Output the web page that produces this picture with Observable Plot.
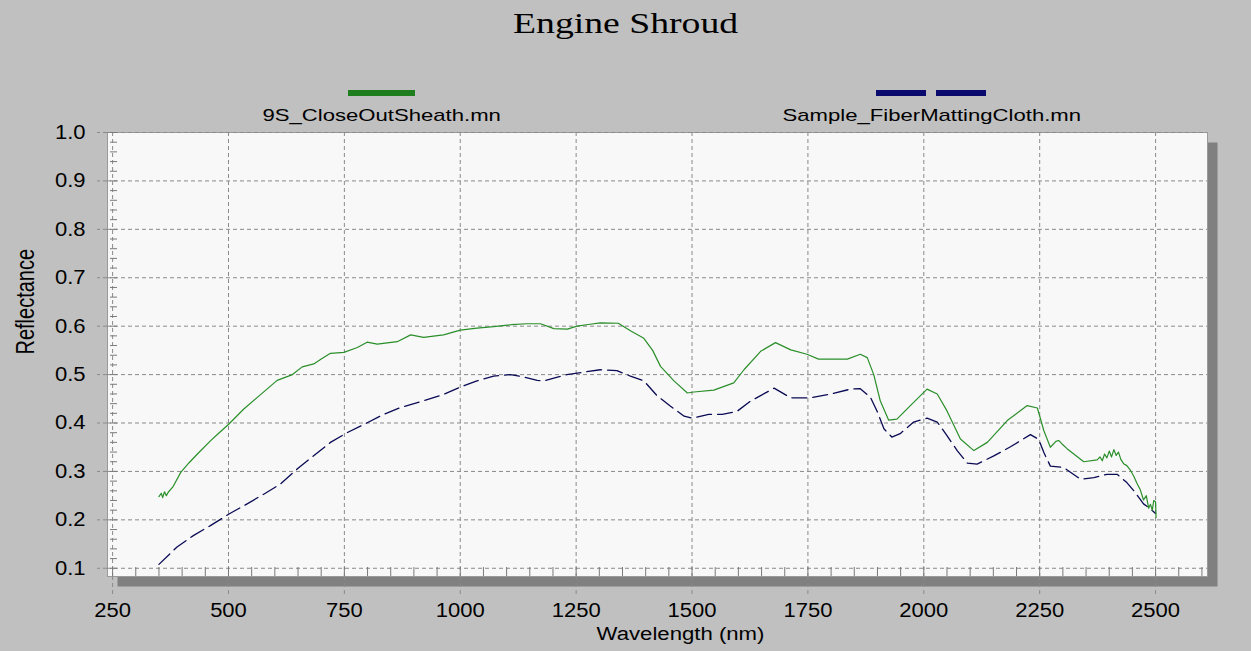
<!DOCTYPE html>
<html><head><meta charset="utf-8">
<script src="https://cdn.jsdelivr.net/npm/d3@7"></script>
<script src="https://cdn.jsdelivr.net/npm/@observablehq/plot@0.6"></script>
<style>
html,body{margin:0;padding:0;background:#c0c0c0;}
#wrap{position:relative;width:1251px;height:651px;overflow:hidden;background:#c0c0c0;}
#header{position:relative;width:1251px;height:108px;}
#title{position:absolute;left:0;top:6px;width:1251px;text-align:center;font-family:"Liberation Serif",serif;font-size:29px;line-height:34px;color:#000;}
.st{display:inline-block;transform:scaleX(1.3);transform-origin:center;}
.leg{position:absolute;top:0;width:550px;height:108px;}
.sw{position:absolute;top:90px;height:6px;}
.lt{position:absolute;left:0;top:106px;width:550px;text-align:center;font-family:"Liberation Sans",Arial,sans-serif;font-size:17px;line-height:20px;color:#000;}
</style></head>
<body>
<div id="wrap">
  <div id="header">
    <div id="title"><span class="st">Engine Shroud</span></div>
    <div class="leg" style="left:107px">
      <div class="sw" style="left:241px;width:67px;background:#1e7e1e"></div>
      <div class="lt"><span class="st" id="l1"></span></div>
    </div>
    <div class="leg" style="left:657px">
      <div class="sw" style="left:219px;width:50px;background:#0a0a6e"></div>
      <div class="sw" style="left:279px;width:50px;background:#0a0a6e"></div>
      <div class="lt"><span class="st" id="l2"></span></div>
    </div>
  </div>
  <div id="chart"></div>
</div>
<script>
const seriesNames = ["9S_CloseOutSheath.mn", "Sample_FiberMattingCloth.mn"];

const greenNm = [350,355,358,362,366,370,380,397,415,433,461,480,501,533,566,605,638,659,684,700,720,749,778,799,821,864,893,921,964,1000,1036,1072,1110,1144,1173,1202,1231,1252,1280,1302,1341,1368,1396,1415,1432,1461,1490,1504,1547,1590,1612,1648,1680,1713,1748,1773,1820,1835,1863,1878,1892,1906,1924,1942,1971,2007,2029,2050,2079,2108,2137,2180,2223,2245,2259,2273,2285,2291,2300,2309,2345,2374,2380,2385,2390,2395,2400,2405,2410,2415,2420,2425,2431,2438,2446,2453,2460,2467,2474,2480,2485,2489,2493,2496,2500,2501];
const greenR = [0.248,0.255,0.246,0.258,0.250,0.257,0.268,0.298,0.318,0.336,0.363,0.380,0.398,0.429,0.456,0.488,0.500,0.516,0.522,0.532,0.544,0.546,0.556,0.567,0.563,0.568,0.582,0.577,0.582,0.592,0.596,0.599,0.603,0.605,0.605,0.595,0.594,0.600,0.604,0.607,0.606,0.590,0.575,0.550,0.517,0.487,0.462,0.464,0.468,0.483,0.510,0.548,0.566,0.551,0.542,0.532,0.532,0.532,0.542,0.535,0.500,0.446,0.406,0.408,0.436,0.470,0.460,0.425,0.367,0.343,0.360,0.405,0.436,0.431,0.384,0.350,0.362,0.364,0.355,0.347,0.320,0.324,0.330,0.322,0.336,0.328,0.342,0.330,0.345,0.333,0.340,0.325,0.316,0.312,0.302,0.290,0.275,0.262,0.241,0.250,0.224,0.232,0.220,0.240,0.237,0.205];

const blueNm = [350,389,425,461,501,533,576,612,648,677,720,756,792,835,871,921,964,1000,1036,1072,1108,1137,1166,1180,1230,1302,1338,1367,1396,1425,1453,1483,1500,1536,1565,1597,1626,1677,1713,1756,1799,1842,1863,1885,1899,1914,1931,1949,1978,2007,2029,2050,2072,2094,2115,2151,2187,2230,2248,2259,2273,2302,2338,2367,2395,2417,2438,2453,2474,2490,2500];
const blueR = [0.108,0.144,0.168,0.188,0.212,0.229,0.253,0.274,0.305,0.327,0.360,0.380,0.397,0.418,0.432,0.446,0.459,0.474,0.487,0.497,0.500,0.495,0.488,0.487,0.500,0.510,0.508,0.497,0.487,0.456,0.435,0.414,0.410,0.418,0.418,0.424,0.445,0.472,0.452,0.452,0.460,0.470,0.471,0.453,0.425,0.388,0.371,0.378,0.402,0.410,0.402,0.374,0.343,0.317,0.315,0.332,0.351,0.376,0.366,0.339,0.311,0.308,0.284,0.287,0.294,0.294,0.277,0.260,0.233,0.222,0.213];

const xTicks = [250,500,750,1000,1250,1500,1750,2000,2250,2500];
const yTicks = [0.1,0.2,0.3,0.4,0.5,0.6,0.7,0.8,0.9,1.0];
const xMinor = d3.range(250, 2601, 50);
const yMinor = d3.range(10, 101, 2).map(d => d / 100);

document.getElementById("l1").textContent = seriesNames[0];
document.getElementById("l2").textContent = seriesNames[1];

const green = greenNm.map((nm, i) => ({nm, r: greenR[i]}));
const blue = blueNm.map((nm, i) => ({nm, r: blueR[i]}));

const gridStyle = {stroke: "#8a8a8a", strokeOpacity: 1, strokeDasharray: "4,3"};

const chart = Plot.plot({
  width: 1251,
  height: 543,
  marginTop: 24,
  marginBottom: 75,
  marginLeft: 107,
  marginRight: 44,
  style: {background: "transparent", fontFamily: "Liberation Sans, Arial, sans-serif", fontSize: "20px", color: "#000", overflow: "visible"},
  x: {domain: [239, 2612]},
  y: {domain: [0.083, 1.0]},
  marks: [
    Plot.frame({fill: "#808080", stroke: null, dx: 10, dy: 10}),
    Plot.frame({fill: "#f8f8f8", stroke: "#9a9a9a"}),
    Plot.gridX({ticks: xTicks, ...gridStyle}),
    Plot.gridY({ticks: yTicks, ...gridStyle}),
    Plot.axisX({ticks: xMinor, anchor: "bottom", tickSize: 9, dy: -9, stroke: "#7a7a7a", fill: "none", label: null}),
    Plot.axisY({ticks: yMinor, anchor: "left", tickSize: 7, dx: 10, stroke: "#7a7a7a", fill: "none", label: null}),
    Plot.axisX({ticks: xTicks, anchor: "bottom", tickSize: 20, tickPadding: 6, stroke: "#8a8a8a", strokeDasharray: "4,3", fill: "#000", fontSize: 20, tickFormat: d => String(d), label: null}),
    Plot.axisY({ticks: yTicks, anchor: "left", tickSize: 10, tickPadding: 12, stroke: "#8a8a8a", strokeDasharray: "4,3", fill: "#000", fontSize: 20, tickFormat: d3.format(".1f"), label: null}),
    Plot.line(blue, {x: "nm", y: "r", stroke: "#0a0a55", strokeWidth: 1.3, strokeDasharray: "15,6"}),
    Plot.line(green, {x: "nm", y: "r", stroke: "#2a8f2a", strokeWidth: 1.2}),
    Plot.text(["Wavelength (nm)"], {frameAnchor: "bottom", dy: 63, dx: 23, fill: "#000", fontSize: 18, className: "xlabel"}),
    Plot.text(["Reflectance"], {frameAnchor: "left", dx: -82, rotate: -90, fill: "#000", fontSize: 20, className: "ylabel"})
  ]
});
document.getElementById("chart").appendChild(chart);

// horizontal stretch of the original bitmap's lettering
function stretch(sel, k) {
  d3.select(chart).selectAll(sel).each(function() {
    const w = this.getComputedTextLength();
    if (w > 0) {
      this.setAttribute("textLength", (w * k).toFixed(1));
      this.setAttribute("lengthAdjust", "spacingAndGlyphs");
    }
  });
}
stretch('g[aria-label="x-axis tick label"] text, g[aria-label="y-axis tick label"] text', 1.1);
stretch('g.xlabel text', 1.23);
d3.select(chart).selectAll('g.ylabel text').each(function() {
  const t = this.getAttribute("transform") || "";
  this.setAttribute("transform", t.replace("rotate", "scale(1.3,1) rotate"));
});
</script>
</body></html>
